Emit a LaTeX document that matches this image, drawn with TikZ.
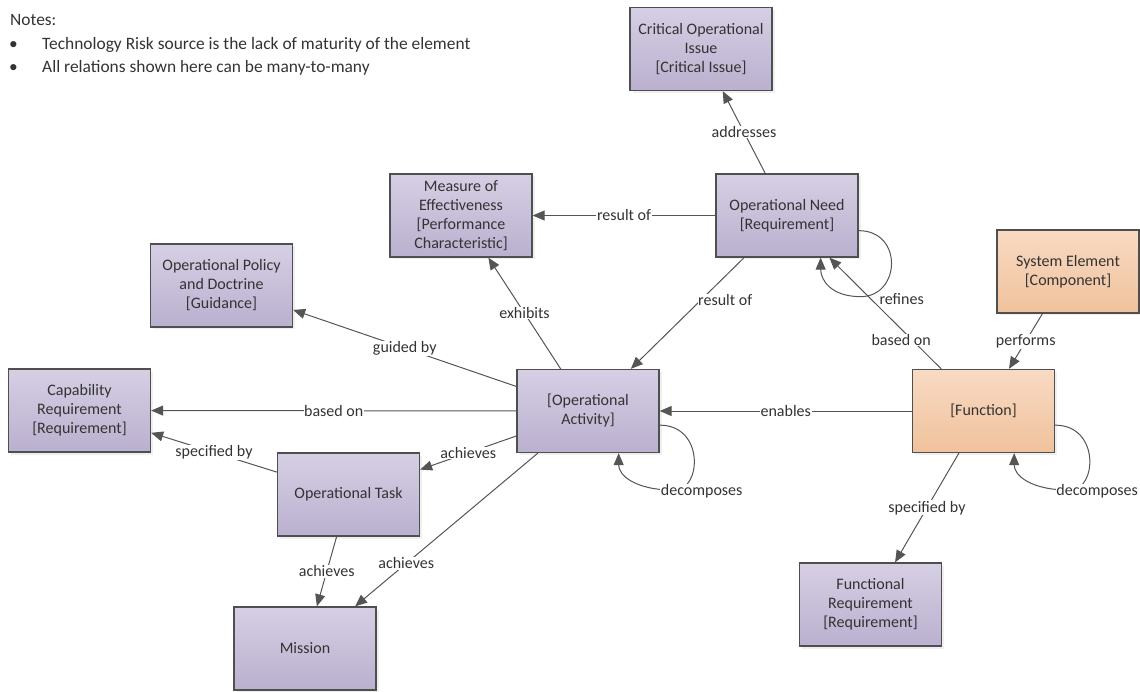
\documentclass[tikz,border=0pt]{standalone}
\usepackage{fontspec}
\setmainfont{Carlito}
\usetikzlibrary{arrows.meta,shadows,calc}
\definecolor{lavtop}{HTML}{D6CFE4}
\definecolor{lavbot}{HTML}{BAB0CF}
\definecolor{ortop}{HTML}{F8DAC3}
\definecolor{orbot}{HTML}{F0C29C}
\definecolor{boxline}{HTML}{4F4F4F}
\definecolor{edge}{HTML}{555555}
\definecolor{txt}{HTML}{333333}
\begin{document}
\begin{tikzpicture}[x=1pt,y=-1pt,
  box/.style={draw=boxline, line width=1.3pt, minimum width=142pt, minimum height=83pt,
    inner sep=2pt, align=center, text=txt, font=\fontsize{16}{19}\selectfont,
    top color=lavtop, bottom color=lavbot,
    drop shadow={shadow xshift=2.5pt, shadow yshift=-2.5pt, fill=black!12}},
  orangebox/.style={box, top color=ortop, bottom color=orbot},
  rel/.style={draw=edge, line width=1pt, -{Triangle[length=12pt,width=10pt]}},
  lbl/.style={fill=white, inner sep=0.6pt, text=txt, font=\fontsize{16}{18}\selectfont},
  note/.style={inner sep=0pt, text=txt, font=\fontsize{17.4}{20}\selectfont}
]
\useasboundingbox (0,0) rectangle (1140,692);

% notes
\node[note, anchor=base west] (notes) at (10,26) {Notes:};
\node[note, anchor=base] (bullet1) at (13.5,50) {•};
\node[note, anchor=base west] (note1) at (42,50) {Technology Risk source is the lack of maturity of the element};
\node[note, anchor=base] (bullet2) at (13.5,73) {•};
\node[note, anchor=base west] (note2) at (42,73) {All relations shown here can be many-to-many};

% elements
\node[box] (issue)   at (701,49)    {Critical Operational\\Issue\\{[Critical Issue]}};
\node[box] (moe)     at (461,215.5) {Measure of\\Effectiveness\\{[Performance}\\Characteristic]};
\node[box] (need)    at (787,215.5) {Operational Need\\{[Requirement]}};
\node[box] (policy)  at (221.5,285.5) {Operational Policy\\and Doctrine\\{[Guidance]}};
\node[box] (capreq)  at (79.5,410.5) {Capability\\Requirement\\{[Requirement]}};
\node[box] (act)     at (588,411)   {{[Operational}\\Activity]};
\node[box] (task)    at (348.5,494.5) {Operational Task};
\node[box] (mission) at (305,648.5) {Mission};
\node[orangebox] (sys)  at (1068,271.5) {System Element\\{[Component]}};
\node[orangebox] (func) at (983.5,411)  {{[Function]}};
\node[box] (freq)    at (870.5,604.5) {Functional\\Requirement\\{[Requirement]}};

% relations
\draw[rel] (need) -- node[lbl] {addresses} (issue);
\draw[rel] (need) -- node[lbl] {result of} (moe);
\draw[rel] (need) -- node[lbl, pos=0.38, anchor=west, xshift=-4pt] {result of} (act);
\draw[rel] (act) -- node[lbl] {exhibits} (moe);
\draw[rel] (act) -- node[lbl] {guided by} (policy);
\draw[rel] (act) -- node[lbl] {based on} (capreq);
\draw[rel] (act) -- node[lbl] {achieves} (task);
\draw[rel] (act) -- node[lbl, pos=0.72] {achieves} (mission);
\draw[rel] (task) -- node[lbl] {specified by} (capreq);
\draw[rel] (task) -- node[lbl] {achieves} (mission);
\draw[rel] (func) -- node[lbl] {enables} (act);
\draw[rel] (func) -- node[lbl, pos=0.26, xshift=-11pt] {based on} (need);
\draw[rel] (sys) -- node[lbl] {performs} (func);
\draw[rel] (func) -- node[lbl] {specified by} (freq);

% self relations
\draw[rel] ($(need.south east)+(0,-27)$) .. controls ($(need.south east)+(45,-27)$) and ($(need.south east)+(42,39)$) .. ($(need.south east)+(2,39)$)
  .. controls ($(need.south east)+(-28,39)$) and ($(need.south east)+(-38,22)$) .. ($(need.south east)+(-38,0)$);
\node[lbl] (needref) at ($(need.south east)+(43,41)$) {refines};

\draw[rel] ($(act.south east)+(0,-28)$) .. controls ($(act.south east)+(45,-28)$) and ($(act.south east)+(42,37)$) .. ($(act.south east)+(15,37)$)
  .. controls ($(act.south east)+(-25,37)$) and ($(act.south east)+(-41,22)$) .. ($(act.south east)+(-41,0)$);
\node[lbl] (actdec) at ($(act.south east)+(42,38)$) {decomposes};

\draw[rel] ($(func.south east)+(0,-28)$) .. controls ($(func.south east)+(45,-28)$) and ($(func.south east)+(42,37)$) .. ($(func.south east)+(15,37)$)
  .. controls ($(func.south east)+(-25,37)$) and ($(func.south east)+(-41,22)$) .. ($(func.south east)+(-41,0)$);
\node[lbl] (funcdec) at ($(func.south east)+(42,38)$) {decomposes};
\end{tikzpicture}
\end{document}
